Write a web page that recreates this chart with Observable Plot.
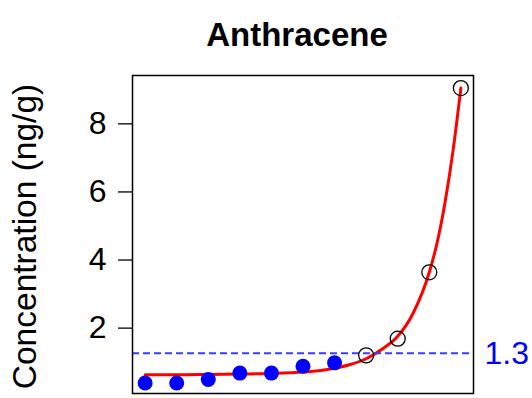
<!DOCTYPE html>
<html>
<head>
<meta charset="utf-8">
<script src="https://cdn.jsdelivr.net/npm/d3@7"></script>
<script src="https://cdn.jsdelivr.net/npm/@observablehq/plot@0.6"></script>
<style>
  html, body { margin: 0; padding: 0; background: #fff; }
</style>
</head>
<body>
<div id="chart"></div>
<script>
const title = "Anthracene";
const yLabel = "Concentration (ng/g)";
const yTicks = [2, 4, 6, 8];

// observed values below the threshold (filled blue)
const lowX = [1, 2, 3, 4, 5, 6, 7];
const lowY = [0.39, 0.39, 0.49, 0.68, 0.68, 0.88, 0.98];

// observed values above the threshold (open circles)
const highX = [8, 9, 10, 11];
const highY = [1.20, 1.69, 3.64, 9.05];

// fitted curve
const curveX = [1, 2, 3, 4, 5, 6, 6.5, 7, 7.5, 8, 8.5, 9, 9.5, 10, 10.25, 10.5, 10.75, 11];
const curveY = [0.63, 0.63, 0.64, 0.65, 0.67, 0.71, 0.75, 0.82, 0.93, 1.10, 1.38, 1.76, 2.46, 3.64, 4.52, 5.70, 7.20, 9.05];

const threshold = 1.26;
const thresholdLabel = "1.3";

const low = lowX.map((x, i) => ({x, y: lowY[i]}));
const high = highX.map((x, i) => ({x, y: highY[i]}));
const curve = curveX.map((x, i) => ({x, y: curveY[i]}));

const font = "'Liberation Sans', Arial, Helvetica, sans-serif";

const chart = Plot.plot({
  width: 532,
  height: 398,
  marginTop: 75,
  marginBottom: 5,
  marginLeft: 132,
  marginRight: 59,
  style: {fontFamily: font, fontSize: "32px", color: "#000", background: "#fff"},
  x: {domain: [0.6, 11.4], axis: null},
  y: {domain: [0.08, 9.42], axis: null},
  marks: [
    Plot.line(curve, {x: "x", y: "y", stroke: "red", strokeWidth: 3, curve: "monotone-x"}),
    Plot.ruleY([threshold], {stroke: "#3b3bff", strokeWidth: 2, strokeDasharray: "7,4"}),
    Plot.dot(low, {x: "x", y: "y", r: 7.5, fill: "blue", stroke: "none"}),
    Plot.dot(high, {x: "x", y: "y", r: 7.5, fill: "none", stroke: "black", strokeWidth: 1.3}),
    Plot.frame({stroke: "black", strokeWidth: 1.5}),
    Plot.axisY({ticks: yTicks, tickSize: 14, tickPadding: 12, fontSize: 32, label: null, strokeWidth: 1.3}),
    Plot.text([thresholdLabel], {frameAnchor: "right", y: () => threshold, text: d => d, textAnchor: "start", dx: 11, fill: "blue", fontSize: 32}),
    Plot.text([title], {frameAnchor: "top", text: d => d, dy: -53, dx: -6, fontSize: 33, fontWeight: "bold"}),
    Plot.text([yLabel], {frameAnchor: "left", text: d => d, rotate: -90, textAnchor: "middle", dx: -107, dy: 2, fontSize: 33.5})
  ]
});
document.getElementById("chart").appendChild(chart);
</script>
</body>
</html>
